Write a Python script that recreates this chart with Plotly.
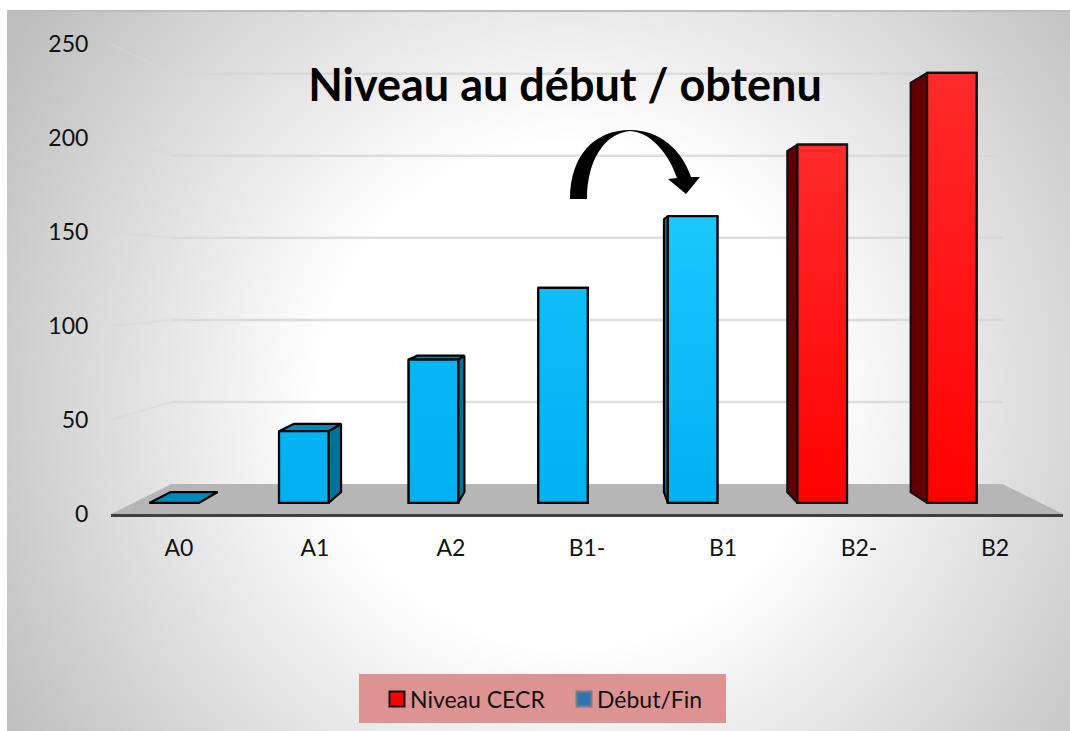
import plotly.graph_objects as go
from urllib.parse import quote

# ---- data -------------------------------------------------------------
categories = ["A0", "A1", "A2", "B1-", "B1", "B2-", "B2"]
debut_fin = [0, 40, 80, 120, 160, None, None]
niveau_cecr = [None, None, None, None, None, 200, 240]
y_ticks = [0, 50, 100, 150, 200, 250]
title_text = "Niveau au début / obtenu"

# ---- page geometry -----------------------------------------------------
W, H = 1070, 731
ML, MR, MT, MB = 111, 7, 44, 217
FONT = "Lato, 'Open Sans', sans-serif"


def px(x):
    return (x - ML) / (W - ML - MR)


def py(y):
    return (H - MB - y) / (H - MT - MB)


# ---- oblique 3-D projection, in data units -----------------------------
VX, VY = 3.0, 125.5        # vanishing point
S_BACK = 0.873             # back wall
S_FRONT_BAR = 0.953        # front of the columns
S_BACK_BAR = 0.907         # back of the columns
BAR_W = 0.382
BAR_SHIFT = -0.185


def proj(x, v, s):
    return VX + (x - VX) * s, VY + (v - VY) * s


def poly(points):
    xs = [p[0] for p in points] + [points[0][0]]
    ys = [p[1] for p in points] + [points[0][1]]
    return xs, ys


def mix(a, b, t):
    return "rgb(" + ",".join(str(round(a[i] + (b[i] - a[i]) * t)) for i in range(3)) + ")"


fig = go.Figure()

# ---- wall gridlines and floor -------------------------------------------
shapes = []
fx0, fy0 = proj(-0.5, 0, 1)
bx0, by0 = proj(-0.5, 0, S_BACK)
bx1, by1 = proj(6.5, 0, S_BACK)
fx1, fy1 = proj(6.5, 0, 1)
shapes.append(dict(type="path", layer="below", xref="x", yref="y",
                   path=f"M{fx0},{fy0} L{bx0},{by0} L{bx1},{by1} L{fx1},{fy1} Z",
                   fillcolor="#B6B6B6", line=dict(width=0)))
for v in y_ticks[1:]:
    ax, ay = proj(-0.5, v, 1)
    bx, by = proj(-0.5, v, S_BACK)
    cx, cy = proj(6.5, v, S_BACK)
    shapes.append(dict(type="line", layer="below", xref="x", yref="y", x0=ax, y0=ay, x1=bx, y1=by,
                       line=dict(color="rgba(215,215,215,0.5)", width=2)))
    shapes.append(dict(type="line", layer="below", xref="x", yref="y", x0=bx, y0=by, x1=cx, y1=cy,
                       line=dict(color="rgba(214,214,214,0.8)", width=2.5)))

# ---- columns ------------------------------------------------------------
series = [
    ("Début/Fin", debut_fin, "#00B0F0", "#00729C", "#0088BB", "#000000"),
    ("Niveau CECR", niveau_cecr, "#FF0000", "#600000", "#800000", "#111111"),
]
for name, vals, face, side, top, edge in series:
    idx = [i for i, v in enumerate(vals) if v is not None]
    centers = [proj(i + BAR_SHIFT, 0, S_FRONT_BAR)[0] for i in idx]
    bases = [proj(0, 0, S_FRONT_BAR)[1] for _ in idx]
    heights = [vals[i] * S_FRONT_BAR for i in idx]
    fig.add_trace(go.Bar(x=centers, y=heights, base=bases, width=BAR_W * S_FRONT_BAR,
                         name=name, showlegend=False,
                         marker=dict(color=face, line=dict(color=edge, width=2.2))))

for name, vals, face, side, top, edge in series:
    for i, v in enumerate(vals):
        if v is None:
            continue
        x = i + BAR_SHIFT
        xl, xr = x - BAR_W / 2, x + BAR_W / 2
        fl = proj(xl, v, S_FRONT_BAR)
        fr = proj(xr, v, S_FRONT_BAR)
        bl = proj(xl, v, S_BACK_BAR)
        br = proj(xr, v, S_BACK_BAR)
        fl0 = proj(xl, 0, S_FRONT_BAR)
        fr0 = proj(xr, 0, S_FRONT_BAR)
        bl0 = proj(xl, 0, S_BACK_BAR)
        br0 = proj(xr, 0, S_BACK_BAR)
        faces = []
        if br[0] > fr[0] + 0.01 and v > 0:
            faces.append(([fr, br, br0, fr0], side))
        if bl[0] < fl[0] - 0.01 and v > 0:
            faces.append(([fl, bl, bl0, fl0], side))
        if bl[1] > fl[1] + 0.5:
            faces.append(([fl, fr, br, bl], top))
        for pts, col in faces:
            xs, ys = poly(pts)
            fig.add_trace(go.Scatter(x=xs, y=ys, mode="lines", fill="toself", fillcolor=col,
                                     line=dict(color=edge, width=2.2), showlegend=False,
                                     hoverinfo="skip"))
        if v > 0:
            if name == "Début/Fin":
                c0, c1 = "rgb(0,176,240)", mix((0, 176, 240), (26, 200, 255), (v / 160) ** 2)
            else:
                c0, c1 = "rgb(255,0,0)", "rgb(255,42,42)"
            xs, ys = poly([fl, fr, fr0, fl0])
            fig.add_trace(go.Scatter(x=xs, y=ys, mode="lines", fill="toself",
                                     fillgradient=dict(type="vertical",
                                                       colorscale=[[0, c0], [1, c1]]),
                                     line=dict(color=edge, width=2.2), showlegend=False,
                                     hoverinfo="skip"))

# ---- legend entries ------------------------------------------------------
fig.add_trace(go.Scatter(x=[None], y=[None], mode="markers", name="Niveau CECR",
                         marker=dict(symbol="square", size=15, color="#FF0000",
                                     line=dict(color="#111111", width=2))))
fig.add_trace(go.Scatter(x=[None], y=[None], mode="markers", name="Début/Fin",
                         marker=dict(symbol="square", size=15, color="#2E75B6",
                                     line=dict(color="#7F7F7F", width=2))))

# ---- panel background, legend box, arrow ---------------------------------
P_L, P_T, P_R, P_B = 7, 10, 1070, 731
svg = (f'<svg xmlns="http://www.w3.org/2000/svg" width="{P_R-P_L}" height="{P_B-P_T}">'
       '<defs><radialGradient id="g" gradientUnits="userSpaceOnUse" '
       f'cx="{570-P_L}" cy="{395-P_T}" r="660">'
       '<stop offset="0.38" stop-color="#FFFFFF"/>'
       '<stop offset="1" stop-color="#BEBEBE"/></radialGradient></defs>'
       f'<rect width="{P_R-P_L}" height="{P_B-P_T}" fill="url(#g)"/></svg>')
images = [dict(source="data:image/svg+xml," + quote(svg), xref="paper", yref="paper",
               x=px(P_L), y=py(P_T), sizex=px(P_R) - px(P_L), sizey=py(P_T) - py(P_B),
               xanchor="left", yanchor="top", sizing="stretch", layer="below")]

shapes.append(dict(type="rect", layer="below", xref="paper", yref="paper",
                   x0=px(359), x1=px(726), y0=py(723), y1=py(674),
                   fillcolor="#DE9393", line=dict(width=0)))
shapes.append(dict(type="line", layer="below", xref="paper", yref="paper",
                   x0=px(P_L), x1=px(P_R), y0=py(P_T + 1), y1=py(P_T + 1),
                   line=dict(color="#BDBDBD", width=2)))


def pt(x, y):
    return f"{px(x)},{py(y)}"


arrow = (f"M{pt(570,199)} C{pt(570,155)} {pt(595,130)} {pt(630,130)} "
         f"C{pt(660,130)} {pt(682,150)} {pt(691,177)} L{pt(700,177)} L{pt(686,194)} "
         f"L{pt(668,179)} L{pt(677,178)} C{pt(668,152)} {pt(650,132)} {pt(630,131)} "
         f"C{pt(605,133)} {pt(587,160)} {pt(587,199)} Z")
shapes.append(dict(type="path", xref="paper", yref="paper", path=arrow,
                   fillcolor="#000000", line=dict(width=0)))

fig.update_layout(
    width=W, height=H, margin=dict(l=ML, r=MR, t=MT, b=MB, pad=0),
    paper_bgcolor="#FFFFFF", plot_bgcolor="rgba(0,0,0,0)",
    barmode="overlay", images=images, shapes=shapes,
    font=dict(family=FONT, size=23, color="#111111"),
    title=dict(text=f"<b>{title_text}</b>", x=565 / W, xanchor="center", xref="container",
               y=1 - 85 / H, yanchor="middle", yref="container",
               font=dict(family=FONT, size=45, color="#000000")),
    xaxis=dict(range=[-0.5, 6.5], tickmode="array", tickvals=list(range(len(categories))),
               ticktext=categories, showgrid=False, zeroline=False, showline=True,
               linecolor="#404040", linewidth=3, ticks="outside", ticklen=11,
               tickcolor="rgba(0,0,0,0)"),
    yaxis=dict(range=[0, 250], tickvals=y_ticks, showgrid=False, zeroline=False,
               showline=False, ticks="outside", ticklen=17, tickcolor="rgba(0,0,0,0)"),
    legend=dict(orientation="h", x=px(370), y=py(699), xanchor="left", yanchor="middle",
                bgcolor="rgba(0,0,0,0)", itemwidth=30, itemsizing="trace",
                entrywidth=142, entrywidthmode="pixels",
                traceorder="normal", font=dict(family=FONT, size=23, color="#111111")),
    hovermode=False,
)
page_js = """
document.body.style.margin = '0';
document.querySelectorAll('.legend .legendsymbols').forEach(function (n) {
  n.setAttribute('transform', 'translate(7,0)');
});
"""
fig.write_html("out.html", post_script=page_js, config={"displayModeBar": False})
